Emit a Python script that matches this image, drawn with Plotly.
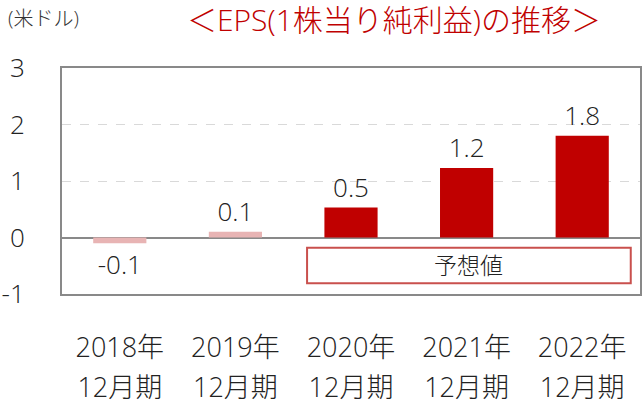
import plotly.graph_objects as go

categories = ["2018年", "2019年", "2020年", "2021年", "2022年"]
periods = ["12月期", "12月期", "12月期", "12月期", "12月期"]
eps = [-0.1, 0.1, 0.53, 1.23, 1.8]
labels = ["-0.1", "0.1", "0.5", "1.2", "1.8"]
forecast = [False, False, True, True, True]
y_ticks = [-1, 0, 1, 2, 3]

FONT = "Open Sans, Noto Sans CJK JP"
RED = "#c00000"
PINK = "#e8b4b4"
TXT = "#222222"
W = 300
colors = [RED if f else PINK for f in forecast]

fig = go.Figure()
fig.add_trace(go.Bar(
    x=categories, y=eps, marker=dict(color=colors, line=dict(width=0)),
    text=labels, textposition="outside", cliponaxis=False,
    textfont=dict(size=26, color=TXT, family=FONT, weight=W),
    xaxis="x", yaxis="y", showlegend=False,
))
fig.add_trace(go.Scatter(
    x=categories, y=[None] * len(categories), xaxis="x2", yaxis="y",
    showlegend=False, hoverinfo="skip",
))

fig.update_layout(
    width=642, height=405,
    margin=dict(l=62, r=2, t=68, b=111),
    plot_bgcolor="white", paper_bgcolor="white",
    font=dict(family=FONT, size=24, color=TXT, weight=W),
    bargap=0.54,
    xaxis=dict(
        type="category", categoryorder="array", categoryarray=categories,
        showgrid=False, showline=True, linecolor="#898989", linewidth=2,
        mirror=True, ticks="", ticklabelstandoff=29, automargin=False,
        tickfont=dict(size=27, family=FONT, color=TXT, weight=W),
        zeroline=False,
    ),
    xaxis2=dict(
        type="category", categoryorder="array", categoryarray=categories,
        overlaying="x", anchor="y", side="bottom", matches="x",
        showgrid=False, showline=False, ticks="", automargin=False,
        tickvals=categories, ticktext=periods, ticklabelstandoff=75,
        tickfont=dict(size=27, family=FONT, color=TXT, weight=W),
    ),
    yaxis=dict(
        range=[-1, 3], tickvals=y_ticks, ticktext=[str(v) for v in y_ticks],
        showgrid=True, gridcolor="#d9d9d9", griddash="dash", gridwidth=1,
        showline=True, linecolor="#898989", linewidth=2, mirror=True,
        zeroline=True, zerolinecolor="#898989", zerolinewidth=2,
        ticks="", ticklabelstandoff=30, automargin=False,
        tickfont=dict(size=26, family=FONT, color=TXT, weight=W),
    ),
    shapes=[dict(
        type="rect", xref="x", yref="y", x0=1.62, x1=4.42, y0=-0.81, y1=-0.18,
        line=dict(color="#c9504d", width=2), fillcolor="rgba(0,0,0,0)",
    )],
    annotations=[
        dict(text="予想値", xref="x", yref="y", x=3.02, y=-0.495, showarrow=False,
             font=dict(size=23, family=FONT, color=TXT, weight=W)),
        dict(text="(米ドル)", xref="paper", yref="paper", x=-0.097, y=1.0,
             yshift=50, xanchor="left", yanchor="middle", showarrow=False,
             font=dict(size=20, family=FONT, color="#333333", weight=W)),
        dict(text="＜EPS(1株当り純利益)の推移＞", xref="paper", yref="paper",
             x=0.575, y=1.0, yshift=49, xanchor="center", yanchor="middle",
             showarrow=False, font=dict(size=30, family=FONT, color=RED, weight=W)),
    ],
)

fig.write_html("out.html")
